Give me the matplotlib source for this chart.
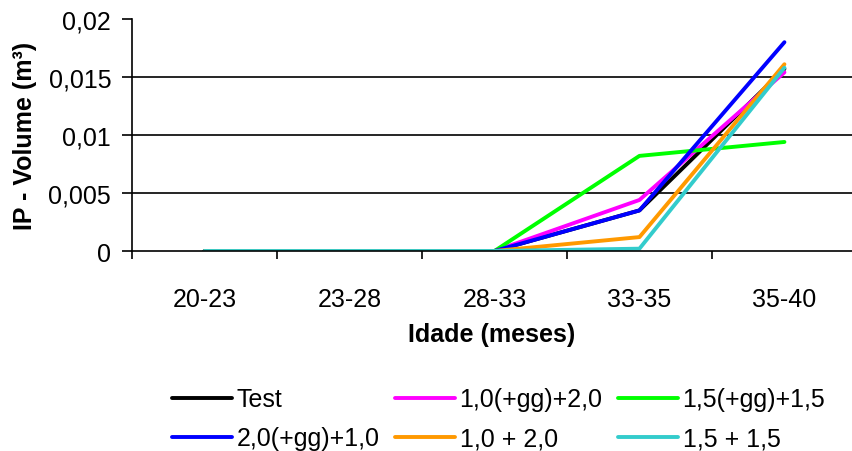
import matplotlib
matplotlib.use("Agg")
import matplotlib.pyplot as plt
from matplotlib.ticker import FixedLocator

plt.rcParams['font.family'] = ['Liberation Sans', 'DejaVu Sans']

categories = ['20-23', '23-28', '28-33', '33-35', '35-40']
series_names = ['Test', '1,0(+gg)+2,0', '1,5(+gg)+1,5', '2,0(+gg)+1,0', '1,0 + 2,0', '1,5 + 1,5']
series_colors = ['#000000', '#ff00ff', '#00ff00', '#0000ff', '#ff9900', '#33cccc']
test = [0, 0, 0, 0.0035, 0.0157]
t10gg20 = [0, 0, 0, 0.0044, 0.0154]
t15gg15 = [0, 0, 0, 0.0082, 0.0094]
t20gg10 = [0, 0, 0, 0.0035, 0.0180]
t10_20 = [0, 0, 0, 0.0012, 0.0161]
t15_15 = [0, 0, 0, 0.0002, 0.0158]
yticks = [0, 0.005, 0.01, 0.015, 0.02]
ytick_labels = ['0', '0,005', '0,01', '0,015', '0,02']

values = [test, t10gg20, t15gg15, t20gg10, t10_20, t15_15]

fig = plt.figure(figsize=(8.52, 4.52), dpi=100)
ax = fig.add_axes([132 / 852, 200 / 452, 720 / 852, 232 / 452])

x = list(range(len(categories)))
lines = []
for name, col, vals in zip(series_names, series_colors, values):
    ln, = ax.plot(x, vals, color=col, lw=2.8, label=name, solid_capstyle='round')
    lines.append(ln)

ax.set_xlim(-0.5, 4.466)
ax.set_ylim(0, 0.02)
ax.set_yticks(yticks)
ax.set_yticklabels(ytick_labels)
for yv in yticks[1:-1]:
    ax.axhline(yv, color='black', lw=1.2, zorder=0)

ax.set_xticks(x)
ax.set_xticklabels(categories)
ax.xaxis.set_minor_locator(FixedLocator([-0.5, 0.5, 1.5, 2.5, 3.5]))
ax.tick_params(axis='x', which='major', length=0, pad=26, labelsize=18)
ax.tick_params(axis='x', which='minor', length=6, width=1.2, direction='out')
ax.tick_params(axis='y', length=7, width=1.2, direction='out', labelsize=18, pad=8)

for s in ['top', 'right']:
    ax.spines[s].set_visible(False)
for s in ['left', 'bottom']:
    ax.spines[s].set_linewidth(1.2)
ax.spines['bottom'].set_clip_on(False)

ax.set_xlabel('Idade (meses)', fontsize=18, fontweight='bold', labelpad=8)
ax.set_ylabel('IP - Volume (m³)', fontsize=18, fontweight='bold', labelpad=8)

# legend fills row-wise in the original, so reorder for matplotlib's column fill
order = [0, 3, 1, 4, 2, 5]
fig.legend([lines[i] for i in order], [series_names[i] for i in order],
           ncol=3, loc='center', bbox_to_anchor=(0.585, 0.071), frameon=False,
           fontsize=18, handlelength=2.4, handletextpad=0.2, columnspacing=0.6,
           labelspacing=0.6)

fig.savefig('out.png', dpi=100)
